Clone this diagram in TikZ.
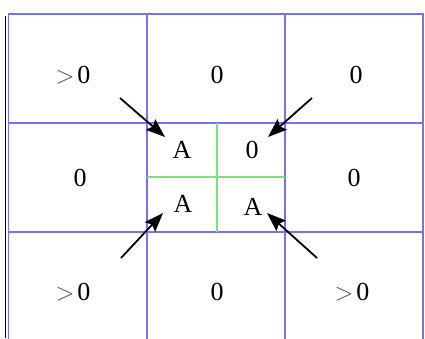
\documentclass[tikz,border=0pt]{standalone}
\usepackage{fontspec}
\setmainfont{Liberation Serif}
\usetikzlibrary{arrows.meta}
\definecolor{gridblue}{RGB}{115,115,235}
\definecolor{gridgreen}{RGB}{125,225,125}
\definecolor{shade}{RGB}{205,205,205}
\newcommand{\bigtxt}{\fontsize{26pt}{30pt}\selectfont}
\newcommand{\gtz}{{\color{black!70}$>$}\hspace{3pt}0}
\begin{document}
\begin{tikzpicture}[x=1pt,y=-1pt,
  bline/.style={draw=gridblue,line width=1.5pt},
  gline/.style={draw=gridgreen,line width=1.2pt},
  lbl/.style={font=\bigtxt,inner sep=0pt,text=black},
  arr/.style={-{Stealth[length=19pt,width=14pt,inset=3pt]},line width=1.8pt,black}]
\useasboundingbox (0,0) rectangle (425,338);
\fill[white] (0,0) rectangle (425,338);
\draw[shade,line width=1.5pt] (5.5,16) -- (5.5,338);
% grid
\draw[bline] (8.5,340) -- (8.5,14) -- (423,14) -- (423,340);
\draw[bline] (147,14) -- (147,340);
\draw[bline] (285,14) -- (285,340);
\draw[bline] (8.5,123) -- (423,123);
\draw[bline] (8.5,232) -- (423,232);
\draw[gline] (217,123) -- (217,232);
\draw[gline] (147,177) -- (285,177);
% labels
\node[lbl] (a11) at (73,75) {\gtz};
\node[lbl] (a12) at (217,75) {0};
\node[lbl] (a13) at (356,75) {0};
\node[lbl] (a21) at (80,178) {0};
\node[lbl] (a23) at (354,178) {0};
\node[lbl] (c11) at (182,150) {A};
\node[lbl] (c12) at (252,150) {0};
\node[lbl] (c21) at (183,204) {A};
\node[lbl] (c22) at (253,207) {A};
\node[lbl] (a31) at (73,292) {\gtz};
\node[lbl] (a32) at (217,292) {0};
\node[lbl] (a33) at (352,292) {\gtz};
% arrows
\coordinate (t1) at (120,98);
\coordinate (h1) at (165,137);
\coordinate (t2) at (312,98);
\coordinate (h2) at (268,137);
\coordinate (t3) at (121,258);
\coordinate (h3) at (163,213);
\coordinate (t4) at (317,258);
\coordinate (h4) at (267,213);
\draw[arr] (t1) -- (h1);
\draw[arr] (t2) -- (h2);
\draw[arr] (t3) -- (h3);
\draw[arr] (t4) -- (h4);
\end{tikzpicture}
\end{document}
